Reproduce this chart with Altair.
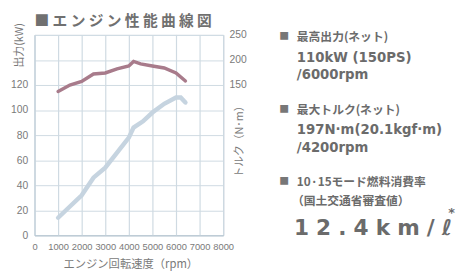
import altair as alt
import pandas as pd

# Engine performance data
rpm_power = [1000, 1500, 2000, 2500, 3000, 3500, 4000, 4200, 4600, 5000, 5500, 6000, 6200, 6400]
power_kw = [14, 23, 32, 46, 54, 66, 78, 86, 91, 98, 105, 110, 110, 106]

rpm_torque = [1000, 1500, 2000, 2500, 3000, 3500, 4000, 4200, 4500, 5000, 5500, 6000, 6400]
torque_nm = [137, 150, 157, 172, 174, 182, 188, 197, 192, 188, 184, 174, 158]

x_ticks = [0, 1000, 2000, 3000, 4000, 5000, 6000, 7000, 8000]
kw_ticks = [0, 20, 40, 60, 80, 100, 120, 140, 160]
nm_ticks = [-150, -100, -50, 0, 50, 100, 150, 200, 250]

chart_title = "■ エ ン ジ ン 性 能 曲 線 図"
x_title = "エンジン回転速度（rpm）"
kw_title = "出力(kW)"
nm_title = "トルク（N･m）"
spec_labels = ["最高出力(ネット)", "最大トルク(ネット)", "10·15モード燃料消費率", "（国土交通省審査値）"]
spec_values = ["110kW (150PS)", "/6000rpm", "197N·m(20.1kgf·m)", "/4200rpm"]
fuel_value = "1\u20042\u2004.\u20044\u2004k\u2004m\u2004/\u2004ℓ"

power_df = pd.DataFrame({"rpm": rpm_power, "kw": power_kw})
torque_df = pd.DataFrame({"rpm": rpm_torque, "nm": torque_nm})
vgrid_df = pd.DataFrame({"rpm": x_ticks})

GRID = "#cfdae2"
DOMAIN = "#b3c3cf"
LABEL = "#7a7a7a"
TEXT = "#6b6b6b"
JP = "Noto Sans CJK JP"
LAT = "DejaVu Sans"

x_scale = alt.Scale(domain=[0, 8000], nice=False, zero=False)
x_axis = alt.Axis(values=x_ticks, format="d", title=None, grid=False, ticks=False,
                  domainColor=DOMAIN, labelColor=LABEL, labelFontSize=9.5,
                  labelFont="Liberation Sans Narrow, Liberation Sans", labelPadding=6,
                  labelFlush=False, labelOverlap=False)

vgrid = alt.Chart(vgrid_df).mark_rule(color=GRID, strokeWidth=1.2, xOffset=0.5).encode(
    x=alt.X("rpm:Q", scale=x_scale, axis=x_axis),
    y=alt.value(0),
    y2=alt.value(204),
)

power = alt.Chart(power_df).mark_line(color="#c6d4e0", strokeWidth=4.5, strokeCap="round").encode(
    x=alt.X("rpm:Q", scale=x_scale, axis=x_axis),
    y=alt.Y("kw:Q", scale=alt.Scale(domain=[0, 160], nice=False),
            axis=alt.Axis(orient="left", values=kw_ticks, title=None, grid=True, gridColor=GRID,
                          ticks=False, domainColor=DOMAIN, labelColor=LABEL, labelFontSize=10.5,
                          labelFont="Liberation Sans", labelPadding=7,
                          labelExpr="datum.value <= 120 ? datum.label : ''")),
)

torque = alt.Chart(torque_df).mark_line(color="#a87b8b", strokeWidth=3.5, strokeCap="round").encode(
    x=alt.X("rpm:Q", scale=x_scale, axis=x_axis),
    y=alt.Y("nm:Q", scale=alt.Scale(domain=[-150, 250], nice=False, zero=False),
            axis=alt.Axis(orient="right", values=nm_ticks, title=None, grid=False, ticks=False,
                          domainColor=DOMAIN, labelColor=LABEL, labelFontSize=10.5,
                          labelFont="Liberation Sans", labelPadding=6,
                          labelExpr="datum.value >= 150 ? datum.label : ''")),
)

anchor = pd.DataFrame({"k": [0]})


def label(text, x, y, size, weight="normal", font=JP, color=TEXT, align="left", angle=0,
          baseline="middle"):
    return alt.Chart(anchor).mark_text(
        text=text, font=font, fontSize=size, fontWeight=weight, color=color, align=align,
        baseline=baseline, angle=angle,
    ).encode(x=alt.value(x), y=alt.value(y))


texts = [
    label(chart_title, 0, -14, 15, weight="bold", color="#707070"),
    label(x_title, 98, 234, 11.5, color="#7a7a7a", align="center"),
    label(kw_title, -15, -12, 11, color="#7a7a7a", align="right", angle=270),
    label(nm_title, 209, 106, 11, color="#7a7a7a", align="center", angle=270),
    # right-hand specification block
    label("■", 249, 2, 10, color="#777777"),
    label(spec_labels[0], 267, 2, 12, weight="bold"),
    label(spec_values[0], 267, 24, 13.5, weight="bold", font=LAT),
    label(spec_values[1], 267, 41, 13.5, weight="bold", font=LAT),
    label("■", 249, 77, 10, color="#777777"),
    label(spec_labels[1], 267, 77, 12, weight="bold"),
    label(spec_values[2], 267, 97, 13.5, weight="bold", font=LAT),
    label(spec_values[3], 267, 115, 13.5, weight="bold", font=LAT),
    label("■", 249, 150, 10, color="#777777"),
    label(spec_labels[2], 267, 150, 12, weight="bold"),
    label(spec_labels[3], 262, 169, 12, weight="bold"),
    label(fuel_value, 264, 204, 22, weight="bold", font=LAT, baseline="alphabetic"),
    label("*", 421, 181, 13, weight="bold", font=LAT),
]

chart = alt.layer(vgrid, power, torque, *texts).resolve_scale(y="independent").properties(
    width=192,
    height=204,
    autosize=alt.AutoSizeParams(type="none"),
    padding={"left": 27, "top": 25, "right": 237, "bottom": 36},
).configure_view(stroke=GRID)

chart.save("out.html", embed_options={"renderer": "svg", "actions": False})
